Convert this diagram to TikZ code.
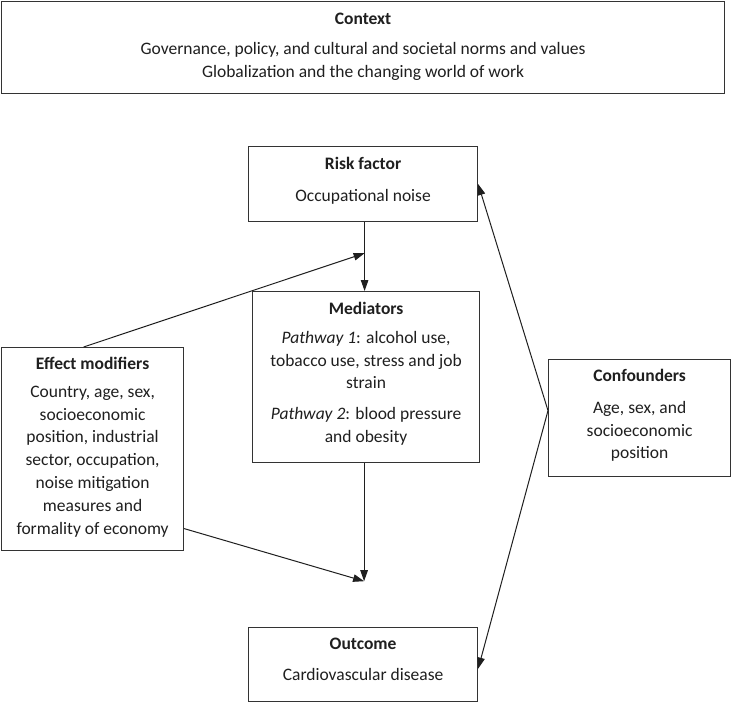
\documentclass[tikz,border=0pt]{standalone}
\usepackage{fontspec}
\setmainfont{Carlito}
\usetikzlibrary{arrows.meta,calc}
\begin{document}
\begin{tikzpicture}[x=1pt,y=-1pt,
  box/.style={draw=black!80, line width=1.2pt, rectangle, inner sep=0pt, anchor=north west},
  lbl/.style={anchor=north, align=center, inner sep=0pt, text=black!88, font=\fontsize{17.5}{22.8}\selectfont},
  arr/.style={draw=black!88, line width=1pt, -{Triangle[length=11pt,width=7.5pt]}}]
\useasboundingbox (0,0) rectangle (731,702);
\fill[white] (0,0) rectangle (731,702);
% boxes
\node[box, minimum width=723pt, minimum height=92pt] (ctx) at (1,1) {};
\node[box, minimum width=229pt, minimum height=75pt] (rf) at (248,146) {};
\node[box, minimum width=227pt, minimum height=171pt] (med) at (252,291) {};
\node[box, minimum width=182pt, minimum height=203pt] (eff) at (1,347) {};
\node[box, minimum width=182pt, minimum height=117pt] (conf) at (548,359) {};
\node[box, minimum width=229pt, minimum height=74pt] (out) at (248,627) {};
% texts
\node[lbl] (ctx-t) at ($(ctx.north)+(0,9)$) {\rule{0pt}{14pt}\textbf{Context}\\[7.2pt]
  Governance, policy, and cultural and societal norms and values\\
  Globalization and the changing world of work};
\node[lbl] (rf-t) at ($(rf.north)+(0,9)$) {\rule{0pt}{14pt}\textbf{Risk factor}\\[9.2pt]
  Occupational noise};
\node[lbl] (med-t) at ($(med.north)+(0,9)$) {\rule{0pt}{14pt}\textbf{Mediators}\\[6.2pt]
  \textit{Pathway 1}: alcohol use,\\
  tobacco use, stress and job\\
  strain\\[8.2pt]
  \textit{Pathway 2}: blood pressure\\
  and obesity};
\node[lbl] (eff-t) at ($(eff.north)+(0,8)$) {\rule{0pt}{14pt}\textbf{Effect modifiers}\\[5.2pt]
  Country, age, sex,\\
  socioeconomic\\
  position, industrial\\
  sector, occupation,\\
  noise mitigation\\
  measures and\\
  formality of economy};
\node[lbl] (conf-t) at ($(conf.north)+(0,8.5)$) {\rule{0pt}{14pt}\textbf{Confounders}\\[8.7pt]
  Age, sex, and\\
  socioeconomic\\
  position};
\node[lbl] (out-t) at ($(out.north)+(0,8)$) {\rule{0pt}{14pt}\textbf{Outcome}\\[8.2pt]
  Cardiovascular disease};
% connectors
\coordinate (m1) at ($(rf.south)+(1.5,31)$);
\coordinate (m2) at ($(med.south)+(-2,118)$);
\coordinate (apex) at ([yshift=7.5pt]conf.west);
\draw[arr] ([xshift=1.5pt]rf.south) -- ([xshift=1.5pt]rf.south |- med.north);
\draw[arr] ([xshift=-9pt]eff.north) -- (m1);
\draw[arr] ([xshift=-2pt]med.south) -- (m2);
\draw[arr] ([yshift=-79.5pt]eff.east) -- (m2);
\draw[arr] (apex) -- (rf.east);
\draw[arr] (apex) -- ([yshift=-4pt]out.east);
\end{tikzpicture}
\end{document}
